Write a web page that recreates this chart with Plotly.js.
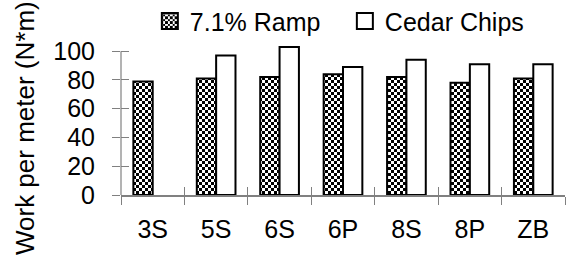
<!DOCTYPE html>
<html>
<head>
<meta charset="utf-8">
<script src="https://cdn.plot.ly/plotly-3.0.1.min.js"></script>
<style>html,body{margin:0;padding:0;background:#fff;}#chart{width:566px;height:267px;}</style>
</head>
<body>
<div id="chart"></div>
<script>
const categories = ['3S', '5S', '6S', '6P', '8S', '8P', 'ZB'];
const rampValues = [79, 81, 82, 84, 82, 78, 81];
const cedarValues = [null, 97, 103, 89, 94, 91, 91];
const seriesNames = ['7.1% Ramp', 'Cedar Chips'];
const yTickValues = [0, 20, 40, 60, 80, 100];
const yTitle = 'Work per meter (N*m)';

const FONT = 'Liberation Sans, Arial, sans-serif';
const AX = '#808080';
const W = 566, H = 267, ML = 121, MR = 1, MT = 44, MB = 72;

const boundaries = categories.map((_, i) => i - 0.5).concat([categories.length - 0.5]);

const traces = [
  {
    type: 'bar', name: seriesNames[0], x: categories, y: rampValues,
    marker: {color: '#ffffff', line: {color: '#000000', width: 2},
             pattern: {shape: 'x', fgcolor: '#000000', bgcolor: '#ffffff', size: 6, solidity: 0.5}},
    hoverinfo: 'skip'
  },
  {
    type: 'bar', name: seriesNames[1], x: categories, y: cedarValues,
    marker: {color: '#ffffff', line: {color: '#000000', width: 2}},
    hoverinfo: 'skip'
  },
  {
    // invisible companion trace so the overlay axes (inner half of crossing ticks) are drawn
    type: 'scatter', mode: 'markers', x: categories.map((_, i) => i), y: rampValues,
    xaxis: 'x2', yaxis: 'y2', marker: {opacity: 0}, showlegend: false, hoverinfo: 'skip'
  }
];

const layout = {
  width: W, height: H,
  margin: {l: ML, r: MR, t: MT, b: MB, pad: 0, autoexpand: false},
  paper_bgcolor: '#ffffff', plot_bgcolor: '#ffffff',
  font: {family: FONT, size: 25, color: '#000000'},
  barmode: 'group', bargap: 0.39, bargroupgap: 0,
  showlegend: true,
  legend: {orientation: 'h', x: 0.065, xanchor: 'left', y: 1.15, yanchor: 'middle',
           font: {family: FONT, size: 25, color: '#000000'}, entrywidth: 150, entrywidthmode: 'pixels',
           bgcolor: 'rgba(0,0,0,0)', borderwidth: 0, traceorder: 'normal'},
  xaxis: {type: 'category', range: [-0.5, categories.length - 0.5], tickson: 'boundaries',
          ticks: 'outside', ticklen: 8, tickwidth: 1, tickcolor: AX,
          showline: true, linecolor: AX, linewidth: 2, showgrid: false, zeroline: false,
          tickfont: {family: FONT, size: 25, color: '#000000'}, ticklabelstandoff: 11, fixedrange: true},
  xaxis2: {overlaying: 'x', anchor: 'y', side: 'bottom', type: 'linear', range: [-0.5, categories.length - 0.5],
           tickmode: 'array', tickvals: boundaries, ticks: 'inside', ticklen: 8, tickwidth: 1, tickcolor: AX,
           showticklabels: false, showline: false, showgrid: false, zeroline: false},
  yaxis: {range: [0, 105], tickmode: 'array', tickvals: yTickValues, ticks: 'outside', ticklen: 8,
          tickwidth: 1, tickcolor: AX, showline: false, showgrid: false, zeroline: false,
          tickfont: {family: FONT, size: 25, color: '#000000'}, ticklabelstandoff: 12, fixedrange: true},
  yaxis2: {overlaying: 'y', anchor: 'x', side: 'left', range: [0, 105], tickmode: 'array', tickvals: yTickValues,
           ticks: 'inside', ticklen: 8, tickwidth: 1, tickcolor: AX, showticklabels: false,
           showline: false, showgrid: false, zeroline: false},
  shapes: [
    {type: 'line', xref: 'paper', yref: 'y', x0: 0, x1: 0, y0: 0, y1: yTickValues[yTickValues.length - 1],
     line: {color: AX, width: 1.2}, layer: 'above'}
  ],
  annotations: [
    {text: yTitle, textangle: -90, xref: 'paper', yref: 'paper', x: -0.216, y: 0.444,
     xanchor: 'center', yanchor: 'middle', showarrow: false, font: {family: FONT, size: 26, color: '#000000'}}
  ]
};

Plotly.newPlot('chart', traces, layout, {displayModeBar: false, staticPlot: true}).then(function () {
  const NS = 'http://www.w3.org/2000/svg';
  // restyle the hatch pattern as a fine checkerboard
  document.querySelectorAll('pattern').forEach(function (p) {
    p.setAttribute('width', 6); p.setAttribute('height', 6);
    p.setAttribute('patternUnits', 'userSpaceOnUse');
    while (p.firstChild) p.removeChild(p.firstChild);
    [[0, 0, 6, 6, '#ffffff'], [0, 0, 3, 3, '#000000'], [3, 3, 3, 3, '#000000']].forEach(function (r) {
      const e = document.createElementNS(NS, 'rect');
      e.setAttribute('x', r[0]); e.setAttribute('y', r[1]);
      e.setAttribute('width', r[2]); e.setAttribute('height', r[3]);
      e.setAttribute('fill', r[4]); e.setAttribute('shape-rendering', 'crispEdges');
      p.appendChild(e);
    });
  });
  // slightly larger legend swatches
  document.querySelectorAll('.legend .legendpoints path').forEach(function (p) {
    p.setAttribute('d', 'M8,8H-8V-8H8Z');
  });
});
</script>
</body>
</html>
